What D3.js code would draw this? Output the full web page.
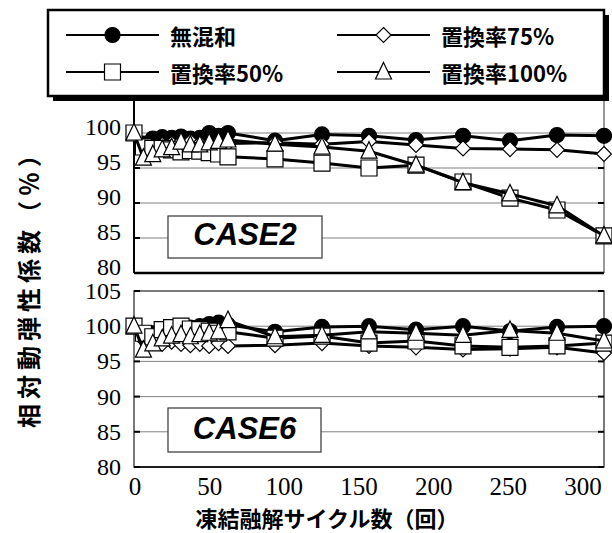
<!DOCTYPE html>
<html>
<head>
<meta charset="utf-8">
<script src="https://cdn.jsdelivr.net/npm/d3@7"></script>
<style>
  body { margin: 0; background: #fff; }
  svg { display: block; }
  .num { font-family: "Liberation Serif", "Times New Roman", "DejaVu Serif", serif; }
  .latin { font-family: "Liberation Sans", Arial, sans-serif; }
  .jp { font-family: "Noto Sans CJK JP", sans-serif; }
</style>
</head>
<body>
<svg id="chart" width="612" height="533"></svg>
<script>
// Freeze–thaw cycle counts at which measurements were taken
const cycles = [0, 6, 12, 18, 24, 30, 36, 42, 48, 54, 60, 90, 120, 150, 180, 210, 240, 270, 300];

// Series labels
const seriesNames = ["無混和", "置換率75%", "置換率50%", "置換率100%"];

// CASE2 – relative dynamic modulus (%)
const case2Plain = [100, 98.5, 99.2, 99.4, 99.3, 99.5, 99.2, 99.3, 100.0, 99.6, 100.0, 98.9, 99.8, 99.6, 99.0, 99.6, 98.9, 99.7, 99.6];
const case2R75   = [100, 97.5, 98.0, 98.3, 98.5, 98.7, 98.8, 98.5, 98.5, 98.6, 98.5, 98.6, 98.4, 98.8, 98.3, 97.8, 97.7, 97.6, 97.0];
const case2R50   = [100, 98.0, 97.8, 97.8, 97.6, 97.3, 97.5, 97.4, 97.2, 97.0, 96.6, 96.3, 95.7, 95.0, 95.4, 93.0, 90.7, 89.0, 85.3];
const case2R100  = [100, 96.4, 96.9, 97.6, 97.9, 98.7, 98.3, 98.3, 98.6, 98.8, 99.0, 98.4, 98.0, 97.4, 95.4, 92.9, 91.3, 89.6, 85.3];

// CASE6 – relative dynamic modulus (%)
const case6Plain = [100, 98.5, 99.0, 99.3, 99.5, 99.6, 99.8, 100.0, 100.3, 100.5, 100.2, 99.2, 99.9, 100.0, 99.5, 100.0, 99.3, 99.9, 100.0];
const case6R75   = [100, 99.0, 98.0, 97.5, 97.8, 97.5, 97.3, 97.5, 97.2, 97.6, 97.2, 97.3, 97.6, 97.2, 97.0, 96.7, 96.8, 97.0, 96.2];
const case6R50   = [100, 99.0, 98.5, 99.5, 99.8, 100.0, 99.6, 99.5, 99.3, 99.0, 99.2, 98.3, 98.6, 97.6, 97.9, 97.2, 97.0, 97.2, 97.6];
const case6R100  = [100, 96.6, 97.5, 98.2, 98.6, 98.8, 98.5, 98.8, 99.0, 99.2, 100.8, 98.5, 98.7, 99.2, 99.0, 98.7, 99.4, 99.0, 97.9];

// Axis ticks
const xTicks = [0, 50, 100, 150, 200, 250, 300];
const yTicksTop = [80, 85, 90, 95, 100];
const yTicksBottom = [80, 85, 90, 95, 100, 105];
const gridValues = [85, 90, 95, 100];

const svg = d3.select("#chart");

const x = d3.scaleLinear().domain([0, 300]).range([134, 604]);
// the cycle labels sit on a slightly narrower band than the plot
const xLabel = d3.scaleLinear().domain([0, 300]).range([135, 583]);
const yTop = d3.scaleLinear().domain([80, 105]).range([273, 98]);
const yBot = d3.scaleLinear().domain([80, 105]).range([467, 291]);

// Marker shapes
const markerPath = {
  circle: () => d3.symbol(d3.symbolCircle, Math.PI * 7.5 * 7.5)(),
  diamond: () => "M0,-7.5L7.5,0L0,7.5L-7.5,0Z",
  square: () => "M-8,-8H8V8H-8Z",
  triangle: () => "M0,-9.5L8,7L-8,7Z"
};
const markerFill = { circle: "#000", diamond: "#fff", square: "#fff", triangle: "#fff" };
const markerKinds = ["circle", "diamond", "square", "triangle"];

function drawPanel(yScale, ticks, labelShift, seriesValues, caseLabel, caseBox, strongAxes) {
  const g = svg.append("g");
  const [x0, x1] = x.range();
  const [yb, yt] = yScale.range();

  // gridlines
  g.selectAll("line.grid").data(gridValues).join("line")
    .attr("x1", x0).attr("x2", x1)
    .attr("y1", d => yScale(d)).attr("y2", d => yScale(d))
    .attr("stroke", "#808080").attr("stroke-width", 1);

  // frame
  if (strongAxes) {
    g.append("line").attr("x1", x1).attr("x2", x1).attr("y1", yt).attr("y2", yb)
      .attr("stroke", "#555").attr("stroke-width", 1.2);
    g.append("line").attr("x1", x0).attr("x2", x1).attr("y1", yb).attr("y2", yb)
      .attr("stroke", "#000").attr("stroke-width", 2.5);
    g.append("line").attr("x1", x0).attr("x2", x0).attr("y1", yt).attr("y2", yb)
      .attr("stroke", "#000").attr("stroke-width", 2);
  } else {
    g.append("rect").attr("x", x0).attr("y", yt).attr("width", x1 - x0).attr("height", yb - yt)
      .attr("fill", "none").attr("stroke", "#333").attr("stroke-width", 1.3);
    g.append("line").attr("x1", x0).attr("x2", x1).attr("y1", yb).attr("y2", yb)
      .attr("stroke", "#000").attr("stroke-width", 1.6);
  }

  // inward ticks on both sides
  g.selectAll("line.tl").data(ticks).join("line")
    .attr("x1", x0).attr("x2", x0 + 6)
    .attr("y1", d => yScale(d)).attr("y2", d => yScale(d))
    .attr("stroke", "#000").attr("stroke-width", 2);
  g.selectAll("line.tr").data(ticks).join("line")
    .attr("x1", x1 - 6).attr("x2", x1)
    .attr("y1", d => yScale(d)).attr("y2", d => yScale(d))
    .attr("stroke", "#000").attr("stroke-width", 2);

  // tick labels
  g.selectAll("text.yl").data(ticks).join("text")
    .attr("class", "num")
    .attr("x", 121).attr("y", d => yScale(d) + labelShift)
    .attr("text-anchor", "end").attr("dominant-baseline", "central")
    .attr("font-size", 24).attr("fill", "#000")
    .text(d => d);

  // case label box
  g.append("rect").attr("x", caseBox.x).attr("y", caseBox.y)
    .attr("width", caseBox.w).attr("height", caseBox.h)
    .attr("fill", "#fff").attr("stroke", "#333").attr("stroke-width", 1.2);
  g.append("text").attr("class", "latin")
    .attr("x", caseBox.x + caseBox.w / 2).attr("y", caseBox.baseline)
    .attr("text-anchor", "middle")
    .attr("font-weight", "bold").attr("font-style", "italic")
    .attr("font-size", 31).attr("fill", "#000")
    .text(caseLabel);

  // series: line then markers, one series at a time
  const line = d3.line().x(d => x(d[0])).y(d => yScale(d[1]));
  seriesValues.forEach((vals, i) => {
    const pts = cycles.map((c, k) => [c, vals[k]]);
    g.append("path").datum(pts).attr("d", line)
      .attr("fill", "none").attr("stroke", "#000").attr("stroke-width", 3)
      .attr("stroke-linejoin", "round");
    const kind = markerKinds[i];
    g.selectAll(null).data(pts).join("path")
      .attr("transform", d => `translate(${x(d[0])},${yScale(d[1])})`)
      .attr("d", markerPath[kind]())
      .attr("fill", markerFill[kind]).attr("stroke", "#000").attr("stroke-width", 1.2);
  });
}

drawPanel(yTop, yTicksTop, -6, [case2Plain, case2R75, case2R50, case2R100], "CASE2",
  { x: 168, y: 216, w: 154, h: 42, baseline: 245 }, true);
drawPanel(yBot, yTicksBottom, 0, [case6Plain, case6R75, case6R50, case6R100], "CASE6",
  { x: 168, y: 408, w: 153, h: 44, baseline: 439 }, false);

// x tick labels
svg.append("g").selectAll("text").data(xTicks).join("text")
  .attr("class", "num")
  .attr("x", d => xLabel(d)).attr("y", 486)
  .attr("text-anchor", "middle").attr("dominant-baseline", "central")
  .attr("font-size", 25).attr("fill", "#000")
  .text(d => d);

// axis titles
svg.append("text").attr("class", "jp")
  .attr("transform", "translate(27,283) rotate(-90)")
  .attr("text-anchor", "middle").attr("dominant-baseline", "central")
  .attr("font-weight", "bold").attr("font-size", 24).attr("letter-spacing", 5)
  .text("相対動弾性係数（％）");
svg.append("text").attr("class", "jp")
  .attr("x", 327).attr("y", 517)
  .attr("text-anchor", "middle").attr("dominant-baseline", "central")
  .attr("font-weight", "bold").attr("font-size", 22)
  .text("凍結融解サイクル数（回）");

// legend
const legend = svg.append("g");
legend.append("rect").attr("x", 53).attr("y", 15).attr("width", 556).attr("height", 86).attr("fill", "#000");
legend.append("rect").attr("x", 48).attr("y", 10).attr("width", 556).attr("height", 86)
  .attr("fill", "#fff").attr("stroke", "#000").attr("stroke-width", 2.5);
const legendItems = seriesNames.map((name, i) => ({
  name, kind: markerKinds[i],
  col: i % 2 === 0 ? 0 : 1,
  row: i === 0 || i === 1 ? 0 : 1
}));
const colX = [66, 337];
const rowY = [35, 72];
legendItems.forEach(it => {
  const lx = colX[it.col], ly = rowY[it.row];
  legend.append("line").attr("x1", lx).attr("x2", lx + 93).attr("y1", ly).attr("y2", ly)
    .attr("stroke", "#000").attr("stroke-width", 2);
  legend.append("path").attr("transform", `translate(${lx + 46.5},${ly})`)
    .attr("d", markerPath[it.kind]())
    .attr("fill", markerFill[it.kind]).attr("stroke", "#000").attr("stroke-width", 1.2);
  legend.append("text").attr("class", "jp")
    .attr("x", lx + 104).attr("y", ly)
    .attr("dominant-baseline", "central")
    .attr("font-weight", "bold").attr("font-size", 22)
    .text(it.name);
});
</script>
</body>
</html>
